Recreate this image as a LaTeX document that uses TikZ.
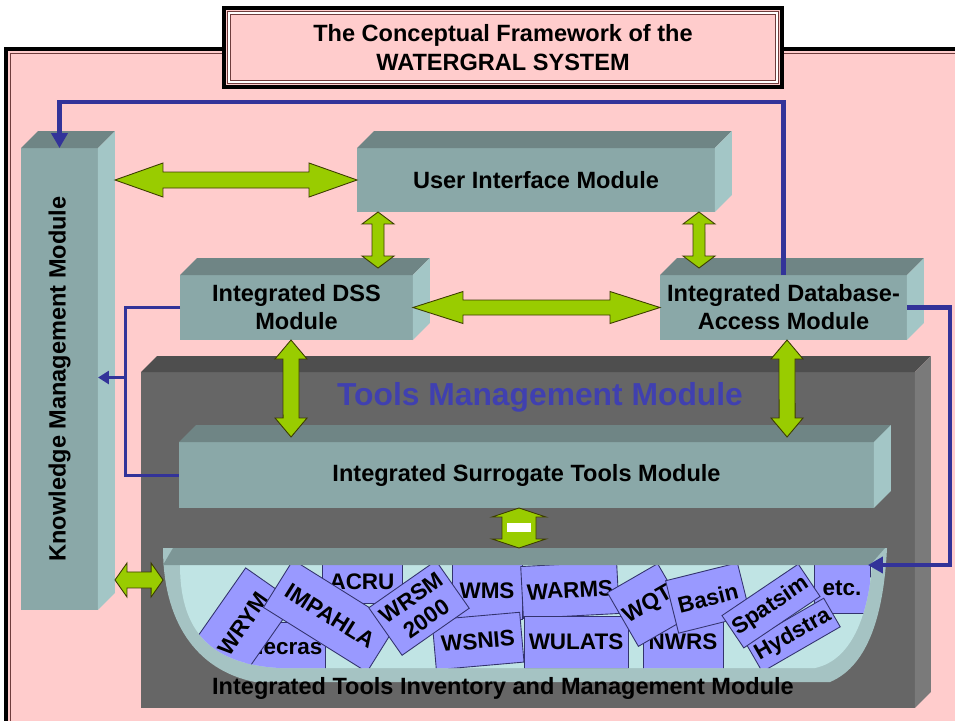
\documentclass[tikz,border=0pt]{standalone}
\usepackage{fontspec}
\setmainfont{Liberation Sans}
\usetikzlibrary{calc,arrows.meta}
\definecolor{PinkClr}{RGB}{255,204,204}
\definecolor{FrameClr}{RGB}{110,60,60}
\definecolor{FaceClr}{RGB}{138,168,168}
\definecolor{TopClr}{RGB}{111,133,133}
\definecolor{SideClr}{RGB}{163,198,198}
\definecolor{DarkFaceClr}{RGB}{102,102,102}
\definecolor{DarkTopClr}{RGB}{78,78,78}
\definecolor{DarkSideClr}{RGB}{122,122,122}
\definecolor{ArrowClr}{RGB}{153,204,0}
\definecolor{ArrowLineClr}{RGB}{60,60,0}
\definecolor{LinkClr}{RGB}{51,51,153}
\definecolor{ToolClr}{RGB}{153,153,255}
\definecolor{ToolLineClr}{RGB}{51,51,110}
\definecolor{InnerClr}{RGB}{192,228,228}
\definecolor{BowlClr}{RGB}{165,195,195}
\definecolor{RimClr}{RGB}{125,150,150}
\definecolor{TitleClr}{RGB}{64,64,176}

% top and side faces of a block node
\newcommand\BlockFaces[4]{%
  \fill[#3] (#1.north west) -- ++(#2,-#2) -- ($(#1.north east)+(#2,-#2)$) -- (#1.north east) -- cycle;
  \fill[#4] (#1.north east) -- ++(#2,-#2) -- ($(#1.south east)+(#2,-#2)$) -- (#1.south east) -- cycle;}

% green double arrow between two points
\newcommand\FatArrow[5]{%
  \filldraw[fat arrow] (#1)
    -- ($(#1)!#3!(#2)!#4!90:(#2)$) -- ($(#1)!#3!(#2)!#5!90:(#2)$)
    -- ($(#2)!#3!(#1)!#5!-90:(#1)$) -- ($(#2)!#3!(#1)!#4!-90:(#1)$)
    -- (#2)
    -- ($(#2)!#3!(#1)!#4!90:(#1)$) -- ($(#2)!#3!(#1)!#5!90:(#1)$)
    -- ($(#1)!#3!(#2)!#5!-90:(#2)$) -- ($(#1)!#3!(#2)!#4!-90:(#2)$)
    -- cycle;}

\begin{document}
\begin{tikzpicture}[x=0.02cm,y=-0.02cm,
  txt/.style={font=\fontsize{13.4}{15.9}\selectfont\bfseries},
  block/.style={txt,fill=FaceClr,inner sep=0pt,outer sep=0pt,align=center},
  darkblock/.style={fill=DarkFaceClr,inner sep=0pt,outer sep=0pt},
  tool/.style={fill=ToolClr,draw=ToolLineClr,line width=0.5pt,inner sep=0pt,outer sep=0pt,align=center,font=\fontsize{12.8}{14.7}\selectfont\bfseries},
  fat arrow/.style={fill=ArrowClr,draw=ArrowLineClr,line width=0.5pt},
  bluelink/.style={LinkClr,line width=2.5pt,-{Triangle[length=0.3cm,width=0.32cm]}},
  thinlink/.style={LinkClr,line width=1.7pt}]

\useasboundingbox (0,0) rectangle (955,720);
\fill[white] (0,0) rectangle (955,720);

% frame and title
\draw[line width=0.07cm,fill=PinkClr] (6,49) rectangle (990,760);
\draw[FrameClr,line width=0.4pt] (10,53) rectangle (990,760);
\node[fill=PinkClr,draw=black,line width=0.07cm,minimum width=11.16cm,minimum height=1.58cm,
  inner sep=0pt,outer sep=0pt,align=center,font=\fontsize{13.4}{16.4}\selectfont\bfseries]
  (title) at (503,47.5) {The Conceptual Framework of the\\WATERGRAL SYSTEM};
\draw[FrameClr,line width=0.5pt,double=white,double distance=0.8pt]
  ($(title.north west)+(5,5)$) rectangle ($(title.south east)+(-5,-5)$);

% tools management block
\node[darkblock,minimum width=15.48cm,minimum height=6.72cm] (tmm) at (528,540) {};
\BlockFaces{tmm}{16}{DarkTopClr}{DarkSideClr}
\node[font=\fontsize{18.1}{20}\selectfont\bfseries,text=TitleClr] (tmmlabel) at (540,397) {Tools Management Module};

% module blocks
\node[block,minimum width=1.54cm,minimum height=9.24cm] (kmm) at (59.5,379)
  {\rotatebox{90}{Knowledge Management Module}};
\BlockFaces{kmm}{17}{TopClr}{SideClr}
\node[block,minimum width=7.16cm,minimum height=1.28cm] (uim) at (536,180) {User Interface Module};
\BlockFaces{uim}{17}{TopClr}{SideClr}
\node[block,minimum width=4.66cm,minimum height=1.3cm] (dss) at (296.5,307.5) {Integrated DSS\\Module};
\BlockFaces{dss}{17}{TopClr}{SideClr}
\node[block,minimum width=4.94cm,minimum height=1.3cm] (db) at (783.5,307.5) {Integrated Database-\\Access Module};
\BlockFaces{db}{17}{TopClr}{SideClr}
\node[block,minimum width=13.9cm,minimum height=1.32cm] (sur) at (526.5,475) {Integrated Surrogate Tools Module};
\BlockFaces{sur}{17}{TopClr}{SideClr}

% tools inventory bowl
\node[inner sep=0pt,outer sep=0pt,minimum width=14.48cm,minimum height=2.84cm] (inv) at (525,619) {};
\fill[BowlClr] (163,548) -- (887,548) .. controls (884,610) and (870,665) .. (830,682)
  -- (255,682) .. controls (195,670) and (163,620) .. (163,548) -- cycle;
\begin{scope}
\clip (180,565) -- (872,565) .. controls (868,615) and (852,660) .. (815,668)
  -- (280,668) .. controls (205,664) and (180,625) .. (180,565) -- cycle;
\fill[InnerClr] (160,540) rectangle (900,690);
\node[tool,minimum width=1.6cm,minimum height=1cm] (hecras) at (285,647) {Hecras};
\node[tool,minimum width=1.6cm,minimum height=0.84cm] (acru) at (362,582) {ACRU};
\node[tool,minimum width=1.4cm,minimum height=1.12cm] (wms) at (487,591) {WMS};
\node[tool,minimum width=1.76cm,minimum height=1cm,rotate=5] (wsnis) at (478,641) {WSNIS};
\node[tool,minimum width=1.9cm,minimum height=1.2cm,rotate=55] (wrym) at (243,624) {WRYM};
\node[tool,minimum width=2.44cm,minimum height=1.12cm,rotate=-32] (impahla) at (330,616) {IMPAHLA};
\node[tool,minimum width=1.64cm,minimum height=1.16cm,rotate=35] (wrsm) at (419,608) {WRSM\\2000};
\node[tool,minimum width=1.92cm,minimum height=1.04cm,rotate=3] (warms) at (570,590) {WARMS};
\node[tool,minimum width=2.08cm,minimum height=1.04cm] (wulats) at (576,642) {WULATS};
\node[tool,minimum width=1.6cm,minimum height=1.1cm] (nwrs) at (683,642) {NWRS};
\node[tool,minimum width=1.16cm,minimum height=1.24cm,rotate=30] (wqt) at (648,605) {WQT};
\node[tool,minimum width=1.48cm,minimum height=1.08cm,rotate=14] (basin) at (708,598) {Basin};
\node[tool,minimum width=1.12cm,minimum height=1cm] (etc) at (842,588) {etc.};
\node[tool,minimum width=1.8cm,minimum height=0.66cm,rotate=30] (hydstra) at (793,635) {Hydstra};
\node[tool,minimum width=1.84cm,minimum height=0.78cm,rotate=34] (spatsim) at (771,606) {Spatsim};
\end{scope}
\fill[RimClr] (173,548) -- (885,548) -- (870,565) -- (163,565) -- cycle;
\node[txt] (invlabel) at (503,688) {Integrated Tools Inventory and Management Module};

% green arrows
\coordinate (k1) at ($(kmm.east|-uim.west)+(17,0)$);
\coordinate (u1) at ($(uim.south west)+(21,0)$);
\coordinate (d1) at ($(dss.north west)+(198,-7)$);
\coordinate (u2) at ($(uim.south east)+(-16,0)$);
\coordinate (b1) at ($(db.north west)+(39,-7)$);
\coordinate (d2) at ($(dss.south)+(-5.5,0)$);
\coordinate (s1) at ($(sur.north west)+(112,-5)$);
\coordinate (b2) at ($(db.south)+(3.5,0)$);
\coordinate (s2) at ($(sur.north west)+(608,-5)$);
\coordinate (s3) at ($(sur.south)+(-7.5,0)$);
\coordinate (i1) at ($(inv.north)+(-6,0)$);
\coordinate (k2) at ($(kmm.south east)+(17,-30)$);
\coordinate (i2) at ($(inv.north west)+(0,32)$);
\FatArrow{k1}{uim.west}{0.96cm}{0.34cm}{0.16cm}
\FatArrow{u1}{d1}{0.24cm}{0.32cm}{0.12cm}
\FatArrow{u2}{b1}{0.24cm}{0.32cm}{0.12cm}
\FatArrow{dss.east}{db.west}{1cm}{0.32cm}{0.15cm}
\FatArrow{d2}{s1}{0.38cm}{0.32cm}{0.16cm}
\FatArrow{b2}{s2}{0.38cm}{0.32cm}{0.16cm}
\FatArrow{s3}{i1}{0.18cm}{0.54cm}{0.34cm}
\fill[white] ($(s3)+(-12,15)$) rectangle ($(s3)+(12,24)$);
\FatArrow{k2}{i2}{0.24cm}{0.34cm}{0.16cm}

% blue links
\draw[bluelink] (db.north) -- ++(0,-173) -| (kmm.north);
\draw[bluelink] (db.east) -- ++(43,0) |- ($(inv.north east)+(-19,17)$);
\draw[thinlink] (dss.west) -- ++(-55,0) |- (sur.west);
\coordinate (kmmjoin) at ($(dss.west)+(-55,70)$);
\draw[thinlink,-{Triangle[length=0.22cm,width=0.26cm]}] (kmmjoin) -- (kmm.east|-kmmjoin);

\end{tikzpicture}
\end{document}
